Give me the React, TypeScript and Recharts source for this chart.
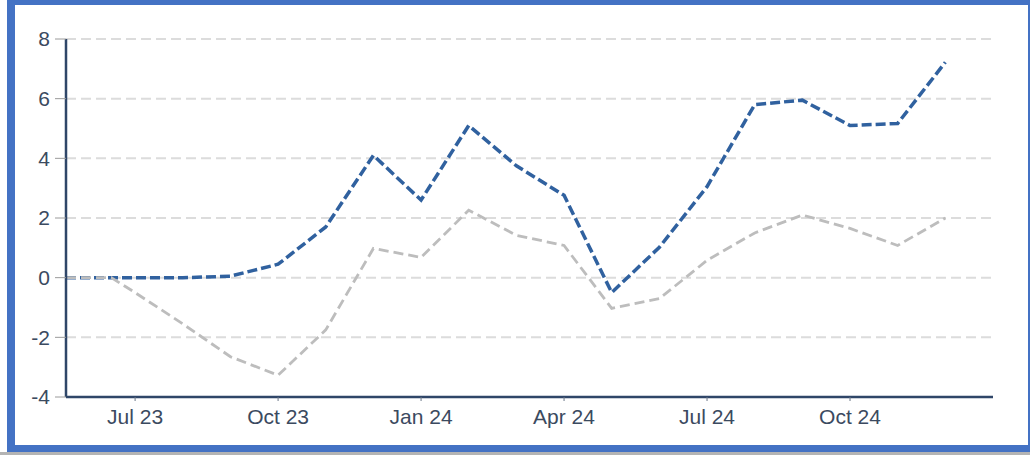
import { LineChart, Line, XAxis, YAxis, CartesianGrid } from 'recharts'

// month offsets from Jul 23 (first two points sit before the first tick)
const months = [-1.45, -0.5, 0, 1, 2, 3, 4, 5, 6, 7, 8, 9, 10, 11, 12, 13, 14, 15, 16, 17]
const blueValues = [0, 0, 0, 0, 0.05, 0.45, 1.7, 4.1, 2.6, 5.1, 3.75, 2.76, -0.5, 1.02, 3.05, 5.8, 5.95, 5.1, 5.17, 7.22]
const grayValues = [0, 0, -0.5, -1.55, -2.65, -3.27, -1.75, 0.98, 0.68, 2.26, 1.42, 1.08, -1.03, -0.7, 0.58, 1.5, 2.1, 1.65, 1.08, 2.0]

const tickPositions = [0, 3, 6, 9, 12, 15]
const tickLabels = ['Jul 23', 'Oct 23', 'Jan 24', 'Apr 24', 'Jul 24', 'Oct 24']
const yTicks = [-4, -2, 0, 2, 4, 6, 8]

const data = months.map((m, i) => ({ m, blue: blueValues[i], gray: grayValues[i] }))

const FONT = '"Liberation Sans", Arial, sans-serif'
const TEXT = '#3b4a60'
const AXIS = '#2f4668'

export default function App() {
  return (
    <div style={{ position: 'absolute', left: 0, top: 0, width: 1030, height: 455, background: '#fff' }}>
      {/* frame */}
      <div
        style={{
          position: 'absolute',
          left: 7,
          top: 0,
          width: 1023,
          height: 452,
          boxSizing: 'border-box',
          borderStyle: 'solid',
          borderColor: '#4472c4',
          borderWidth: '5px 2px 7px 8px',
        }}
      />
      <div style={{ position: 'absolute', left: 0, top: 452, width: 1030, height: 3, background: '#b4b4b4' }} />

      <div style={{ position: 'absolute', left: 0, top: 0 }}>
        <LineChart
          width={1030}
          height={455}
          data={data}
          margin={{ top: 39, right: 37, left: 0, bottom: 28 }}
        >
          <CartesianGrid
            horizontal
            vertical={false}
            stroke="#dcdcdc"
            strokeWidth={2}
            strokeDasharray="10 5"
          />
          <XAxis
            type="number"
            dataKey="m"
            domain={[-1.45, 18]}
            ticks={tickPositions}
            tickFormatter={(v: number) => tickLabels[tickPositions.indexOf(v)] ?? ''}
            height={30}
            tickSize={4}
            tickMargin={8}
            axisLine={{ stroke: AXIS, strokeWidth: 2.5 }}
            tickLine={{ stroke: '#6b7788' }}
            tick={{ fill: TEXT, fontSize: 21, fontFamily: FONT }}
          />
          <YAxis
            type="number"
            domain={[-4, 8]}
            ticks={yTicks}
            width={66}
            tickSize={11}
            tickMargin={5}
            axisLine={{ stroke: AXIS, strokeWidth: 2.5 }}
            tickLine={{ stroke: '#9a9a9a' }}
            tick={{ fill: TEXT, fontSize: 21, fontFamily: FONT }}
          />
          <Line
            type="linear"
            dataKey="blue"
            stroke="#30619f"
            strokeWidth={3.5}
            strokeDasharray="10 4"
            dot={false}
            isAnimationActive={false}
          />
          <Line
            type="linear"
            dataKey="gray"
            stroke="#bdbdbd"
            strokeWidth={2.8}
            strokeDasharray="10 5"
            dot={false}
            isAnimationActive={false}
          />
        </LineChart>
      </div>
    </div>
  )
}
